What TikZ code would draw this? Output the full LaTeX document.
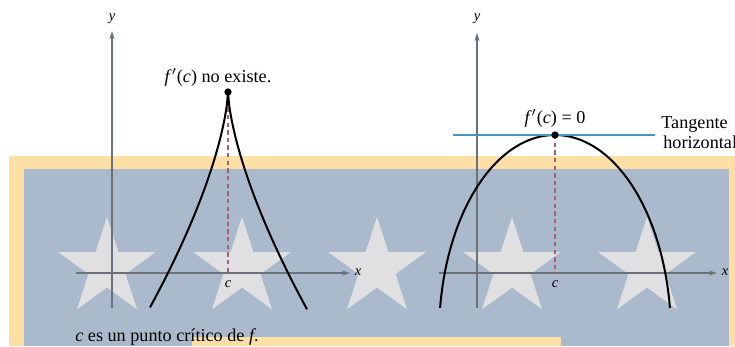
\documentclass[tikz,border=0pt]{standalone}
\usepackage{fontspec}
\setmainfont{Liberation Serif}
\usetikzlibrary{arrows.meta, calc}
\definecolor{bgpeach}{RGB}{254,223,166}
\definecolor{bgblue}{RGB}{170,186,204}
\definecolor{starwhite}{RGB}{224,224,226}
\definecolor{axisgray}{RGB}{108,112,120}
\definecolor{guidered}{RGB}{165,95,125}
\definecolor{tangblue}{RGB}{70,150,195}

\begin{document}
\begin{tikzpicture}[x=0.55pt, y=-0.55pt,
	axis/.style={axisgray, line width=0.6pt, -{Stealth[length=4.5pt, width=2.8pt]}},
	curve/.style={black, line width=1.1pt},
	guide/.style={guidered, line width=0.6pt, dash pattern=on 2.4pt off 1.8pt},
	dot/.style={circle, fill=black, inner sep=0pt, minimum size=4pt},
	lbl/.style={font=\footnotesize\itshape, inner sep=1pt}]
	\useasboundingbox (0,0) rectangle (735,346);
	\fill[bgpeach] (9,156) rectangle (735,346);
	\fill[bgblue] (24,169) rectangle (729,346);
	\fill[bgpeach] (192,337) rectangle (561,346);
	\foreach \sx in {107,242,377,512,647}
		\fill[starwhite] plot[samples at={0,...,9}, variable=\k]
			({\sx+ifthenelse(mod(\k,2)==0,51,19.5)*cos(90+36*\k)},
			 {268-ifthenelse(mod(\k,2)==0,51,19.5)*sin(90+36*\k)}) -- cycle;
	\begin{scope}
		\coordinate (peak) at (228,92);
		\coordinate (cA) at (228,273);
		\draw[axis] (112,308) -- (112,31);
		\draw[axis] (76,273) -- (350,273);
		\draw[guide] (peak) -- (cA);
		\draw[curve] plot[domain=78:0.01, samples=70] ({228-\x},{92+11.8*(\x)^(2/3)})
			-- plot[domain=0.01:79, samples=70] ({228+\x},{92+11.8*(\x)^(2/3)});
		\node[dot] (peakdot) at (peak) {};
		\node[anchor=base] (noexist) at (218,82) {\textit{f}$'$(\textit{c}) no existe.};
		\node[lbl] (yA) at (112,19) {y};
		\node[lbl] (xA) at (358,272) {x};
		\node[lbl] (cAlbl) at (228,284) {c};
	\end{scope}
	\begin{scope}
		\coordinate (top) at (555,135);
		\coordinate (cB) at (555,273);
		\draw[axis] (477,308) -- (477,33);
		\draw[axis] (439,273) -- (717,273);
		\draw[guide] (top) -- (cB);
		\draw[curve] plot[domain=7.8:172.2, samples=90] ({555+116*cos(\x)},{335-200*sin(\x)});
		\coordinate (tanL) at (453,135);
		\coordinate (tanR) at (655,135);
		\draw[tangblue, line width=0.8pt] (tanL) -- (tanR);
		\node[dot] (topdot) at (top) {};
		\node[anchor=base] (zero) at (555,123) {\textit{f}$'$(\textit{c}) = 0};
		\node[anchor=base west, inner sep=0pt] (tang1) at (661,128) {Tangente};
		\node[anchor=base west, inner sep=0pt] (tang2) at (663,148) {horizontal};
		\node[lbl] (yB) at (477,19) {y};
		\node[lbl] (xB) at (725,272) {x};
		\node[lbl] (cBlbl) at (555,284) {c};
	\end{scope}
	\node[anchor=base west, inner sep=0pt] (crit) at (75,341) {\textit{c} es un punto crítico de \textit{f}.};
\end{tikzpicture}
\end{document}
